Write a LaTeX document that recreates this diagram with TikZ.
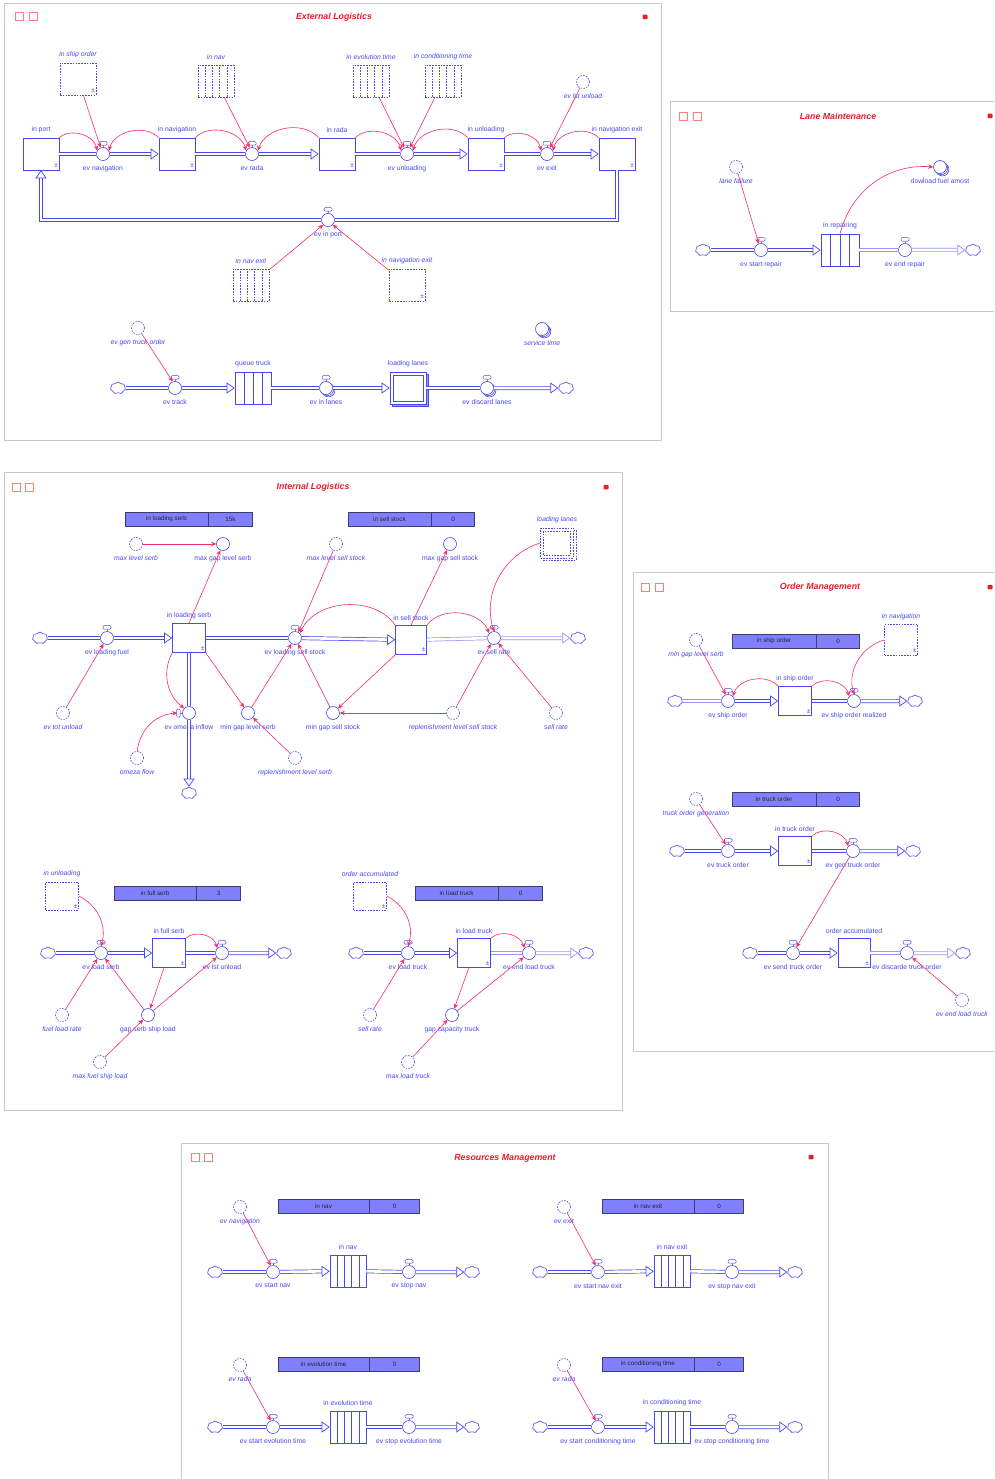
\documentclass[tikz,border=0pt]{standalone}
\usepackage{fontspec}
\setmainfont{Liberation Sans}
\usepackage{tikz}
\usetikzlibrary{arrows.meta, shapes.symbols, shadows, calc, positioning}

\definecolor{simblue}{RGB}{72,72,240}
\definecolor{pipeblue}{RGB}{150,150,250}
\definecolor{linkpink}{RGB}{245,45,105}
\definecolor{framepink}{RGB}{255,125,125}
\definecolor{titlered}{RGB}{230,30,40}
\definecolor{tableblue}{RGB}{128,128,255}
\definecolor{tableedge}{RGB}{60,60,110}

\tikzstyle{lbl}        = [font=\fontsize{6.8}{7}\selectfont, text=simblue, inner sep=0.5pt, label distance=4pt]
\tikzstyle{glbl}       = [lbl, font=\fontsize{6.8}{7}\selectfont\itshape]
\tikzstyle{pmsign}     = [anchor=south east, font=\fontsize{6.5}{6.5}\selectfont, text=simblue, inner sep=1.2pt]
\tikzstyle{stock}      = [rectangle, draw=simblue, fill=white, line width=0.6pt, minimum width=36, minimum height=32, inner sep=0, label={[pmsign]-40:±}]
\tikzstyle{ghoststock} = [stock, dash pattern=on 1.6pt off 1.2pt]
\tikzstyle{valvecap}   = [rectangle, rounded corners=1pt, draw=simblue, fill=white, line width=0.5pt, minimum width=8, minimum height=3.5, inner sep=0, pin distance=1.8pt]
\tikzstyle{valvebody}  = [circle, draw=simblue, fill=white, line width=0.6pt, minimum size=13, inner sep=0, pin distance=1.8pt, pin edge={simblue, line width=0.5pt}]
\tikzstyle{valve}      = [valvebody, pin={[valvecap]90:{}}]
\tikzstyle{valveside}  = [valvebody, pin={[valvecap, minimum width=3.5, minimum height=8]180:{}}]
\tikzstyle{conv}       = [circle, draw=simblue, fill=white, line width=0.6pt, minimum size=13, inner sep=0]
\tikzstyle{ghostconv}  = [conv, dash pattern=on 1.6pt off 1.2pt]
\tikzstyle{stacked}    = [double copy shadow={shadow xshift=1.2pt, shadow yshift=-1.2pt}]
\tikzstyle{cloudsrc}   = [cloud, cloud puffs=7, cloud puff arc=115, aspect=1.25, draw=simblue, fill=white, line width=0.6pt, minimum width=15, minimum height=12, inner sep=0]
\tikzstyle{pipe}       = [draw=simblue, line width=0.7pt, double=white, double distance=2.6pt]
\tikzstyle{pipelight}  = [pipe, draw=pipeblue]
\tikzstyle{flowtip}    = [-{Triangle[open, length=8pt, width=11pt]}]
\tikzstyle{link}       = [draw=linkpink, line width=0.6pt, -{Stealth[length=5pt, width=4.5pt]}]
\tikzstyle{tcell}      = [rectangle, draw=tableedge, fill=tableblue, line width=0.5pt, minimum height=14, inner sep=0, font=\fontsize{6.3}{7}\selectfont, text=black!85]
\tikzstyle{outerframe} = [draw=black!22, line width=0.7pt]
\tikzstyle{winframe}   = [draw=framepink, line width=0.6pt, double=white, double distance=1.4pt]
\tikzstyle{wintitle}   = [font=\fontsize{8.8}{9}\selectfont\bfseries\itshape, text=titlered, inner sep=0]
\tikzstyle{winicon}    = [rectangle, draw=framepink, line width=0.6pt, minimum size=8, inner sep=0]
\tikzstyle{winlock}    = [rectangle, rounded corners=0.8pt, fill=titlered, minimum width=5, minimum height=4.5, inner sep=0]
\tikzset{
  convlines/.style 2 args={path picture={
    \foreach \k [evaluate=\k as \f using \k/(#1+1)] in {1,...,#1}
      \draw[simblue, line width=0.5pt, #2]
        ($(path picture bounding box.south west)!\f!(path picture bounding box.south east)$) --
        ($(path picture bounding box.north west)!\f!(path picture bounding box.north east)$);}},
  conveyor/.style={rectangle, draw=simblue, fill=white, line width=0.6pt, minimum width=36, minimum height=32, inner sep=0, convlines={#1}{solid}},
  conveyor/.default=4,
  ghostconveyor/.style={conveyor, dash pattern=on 1.6pt off 1.2pt, convlines={4}{dash pattern=on 1.6pt off 1.2pt}},
  ovenframe/.style={path picture={
    \draw[simblue, line width=0.6pt, #1]
      ([shift={(3pt,3pt)}]path picture bounding box.south west) rectangle
      ([shift={(-3pt,-3pt)}]path picture bounding box.north east);}},
  oven/.style={rectangle, draw=simblue, fill=white, line width=0.6pt, minimum width=36, minimum height=32, inner sep=0, ovenframe=solid,
    copy shadow={shadow xshift=2.5pt, shadow yshift=-2.5pt, draw=simblue, fill=simblue!55}},
  ghostoven/.style={rectangle, draw=simblue, fill=white, line width=0.6pt, minimum width=33, minimum height=30, inner sep=0,
    dash pattern=on 1.6pt off 1.2pt, ovenframe={dash pattern=on 1.6pt off 1.2pt},
    copy shadow={shadow xshift=2.5pt, shadow yshift=-2.5pt, draw=simblue, fill=white}}
}

\begin{document}
\begin{tikzpicture}[x=1pt, y=-1pt]
    \useasboundingbox (0,0) rectangle (994,1479);
    \clip (0,0) rectangle (994,1479);
    \fill[white] (0,0) rectangle (994,1479);

    % ---------------- External Logistics ----------------
    \draw[outerframe] (4,3) rectangle (661,440);
    \draw[winframe] (12,8) rectangle (655,435);
    \draw[winframe] (12,24) -- (655,24);
    \node (elicA)   at (19,16)  [winicon] {};
    \node (elicB)   at (33,16)  [winicon] {};
    \node (ellock)  at (645,17) [winlock] {};
    \node (eltitle) at (334,17) [wintitle] {External Logistics};

    % main chain: in port -> ... -> in navigation exit
    \node (inport)    at (41,154)  [stock, label={[lbl]above:in port}] {};
    \node (evnav)     at (103,154) [valve, label={[lbl]below:ev navigation}] {};
    \node (innav)     at (177,154) [stock, label={[lbl]above:in navigation}] {};
    \node (evrada)    at (252,154) [valve, label={[lbl]below:ev rada}] {};
    \node (inrada)    at (337,154) [stock, label={[lbl]above:in rada}] {};
    \node (evunload)  at (407,154) [valve, label={[lbl]below:ev unloading}] {};
    \node (inunload)  at (486,154) [stock, label={[lbl]above:in unloading}] {};
    \node (evexit)    at (547,154) [valve, label={[lbl]below:ev exit}] {};
    \node (innavexit) at (617,154) [stock, label={[lbl]above:in navigation exit}] {};
    \node (shipordg)  at (78,79)   [ghoststock, label={[glbl]above:in ship order}] {};
    \node (navg)      at (216,81)  [ghostconveyor, label={[glbl]above:in nav}] {};
    \node (evoltg)    at (371,81)  [ghostconveyor, label={[glbl]above:in evolution time}] {};
    \node (condtg)    at (443,81)  [ghostconveyor, label={[glbl]above:in conditioning time}] {};
    \node (lstunlg)   at (583,82)  [ghostconv, label={[glbl]below:ev lst unload}] {};
    \node (evinport)  at (328,220) [valve, label={[lbl]below:ev in port}] {};
    \node (navexitg)  at (251,285) [ghostconveyor, label={[glbl]above:in nav exit}] {};
    \node (navexitsg) at (407,285) [ghoststock, label={[glbl]above:in navigation exit}] {};

    \draw [pipe]          (inport)    -- (evnav);
    \draw [pipe, flowtip] (evnav)     -- (innav);
    \draw [pipe]          (innav)     -- (evrada);
    \draw [pipe, flowtip] (evrada)    -- (inrada);
    \draw [pipe]          (inrada)    -- (evunload);
    \draw [pipe, flowtip] (evunload)  -- (inunload);
    \draw [pipe]          (inunload)  -- (evexit);
    \draw [pipe, flowtip] (evexit)    -- (innavexit);
    \draw [pipe]          (innavexit.south) |- (evinport);
    \draw [pipe, flowtip] (evinport)  -| (inport.south);

    \draw [link] (shipordg) -- (evnav.110);
    \draw [link] (navg)     -- (evrada.110);
    \draw [link] (evoltg)   -- (evunload.115);
    \draw [link] (condtg)   -- (evunload.65);
    \draw [link] (lstunlg)  -- (evexit.65);
    \draw [link] (inport.north east)    to[bend left=60]  (evnav.150);
    \draw [link] (innav.north west)     to[bend right=60] (evnav.30);
    \draw [link] (innav.north east)     to[bend left=60]  (evrada.150);
    \draw [link] (inrada.north west)    to[bend right=60] (evrada.30);
    \draw [link] (inrada.north east)    to[bend left=60]  (evunload.150);
    \draw [link] (inunload.north west)  to[bend right=60] (evunload.30);
    \draw [link] (inunload.north east)  to[bend left=60]  (evexit.150);
    \draw [link] (innavexit.north west) to[bend right=60] (evexit.30);
    \draw [link] (navexitg)  -- (evinport.225);
    \draw [link] (navexitsg) -- (evinport.315);

    % truck chain
    \node (elcloudA)  at (118,388) [cloudsrc] {};
    \node (evtrack)   at (175,388) [valve, label={[lbl]below:ev track}] {};
    \node (queuetr)   at (253,388) [conveyor=3, label={[lbl]above:queue truck}] {};
    \node (evinlanes) at (326,388) [valve, stacked, label={[lbl]below:ev in lanes}] {};
    \node (loadlanes) at (408,388) [oven, label={[lbl]above:loading lanes}] {};
    \node (evdiscard) at (487,388) [valve, stacked, label={[lbl]below:ev discard lanes}] {};
    \node (elcloudB)  at (566,388) [cloudsrc] {};
    \node (gentrkg)   at (138,328) [ghostconv, label={[glbl]below:ev gen truck order}] {};
    \node (servtime)  at (542,329) [conv, stacked, label={[glbl]below:service time}] {};

    \draw [pipe]          (elcloudA)  -- (evtrack);
    \draw [pipe, flowtip] (evtrack)   -- (queuetr);
    \draw [pipe]          (queuetr)   -- (evinlanes);
    \draw [pipe, flowtip] (evinlanes) -- (loadlanes);
    \draw [pipe]          (loadlanes) -- (evdiscard);
    \draw [pipe, flowtip] (evdiscard) -- (elcloudB);
    \draw [link] (gentrkg) -- (evtrack.110);

    % ---------------- Lane Maintenance ----------------
    \draw[outerframe] (670,101) rectangle (1000,311);
    \draw[winframe] (676,108) rectangle (1000,306);
    \draw[winframe] (676,123) -- (1000,123);
    \node (lmicA)   at (683,116) [winicon] {};
    \node (lmicB)   at (697,116) [winicon] {};
    \node (lmlock)  at (990,116) [winlock] {};
    \node (lmtitle) at (838,116) [wintitle] {Lane Maintenance};

    \node (lmcloudA)  at (703,250) [cloudsrc] {};
    \node (evstrep)   at (761,250) [valve, label={[lbl]below:ev start repair}] {};
    \node (inrepair)  at (840,250) [conveyor=3, minimum width=38, label={[lbl]above:in repairing}] {};
    \node (evendrep)  at (905,250) [valve, label={[lbl]below:ev end repair}] {};
    \node (lmcloudB)  at (973,250) [cloudsrc] {};
    \node (lanefailg) at (736,167) [ghostconv, label={[glbl]below:lane failure}] {};
    \node (dlfuel)    at (940,167) [conv, stacked, label={[lbl]below:dowload fuel amost}] {};

    \draw [pipe]               (lmcloudA) -- (evstrep);
    \draw [pipe, flowtip]      (evstrep)  -- (inrepair);
    \draw [pipelight]          (inrepair) -- (evendrep);
    \draw [pipelight, flowtip] (evendrep) -- (lmcloudB);
    \draw [link] (lanefailg) -- (evstrep.110);
    \draw [link] (inrepair.north) to[bend left=40] (dlfuel.west);

    % ---------------- Internal Logistics ----------------
    \draw[outerframe] (4,472) rectangle (622,1110);
    \draw[winframe] (9,480) rectangle (615,1100);
    \draw[winframe] (9,494) -- (615,494);
    \node (ilicA)   at (16,487)  [winicon] {};
    \node (ilicB)   at (29,487)  [winicon] {};
    \node (illock)  at (606,487) [winlock] {};
    \node (iltitle) at (313,487) [wintitle] {Internal Logistics};

    \node (tabserb)  at (166.5,519) [tcell, minimum width=83] {in loading serb};
    \node (tabserbv) [tcell, minimum width=44, right=0pt of tabserb] {15k};
    \node (tabsell)  at (389.5,519) [tcell, minimum width=83] {in sell stock};
    \node (tabsellv) [tcell, minimum width=43, right=0pt of tabsell] {0};

    \node (maxlvserbg) at (136,544) [ghostconv, label={[glbl]below:max level serb}] {};
    \node (maxgapserb) at (223,544) [conv, label={[lbl]below:max gap level serb}] {};
    \node (ilcloudA)   at (40,638)  [cloudsrc] {};
    \node (evloadfuel) at (107,638) [valve, label={[lbl]below:ev loading fuel}] {};
    \node (inloadserb) at (189,638) [stock, minimum width=33, minimum height=29, label={[lbl]above:in loading serb}] {};
    \node (evtotunlg)  at (63,713)  [ghostconv, label={[glbl]below:ev tot unload}] {};
    \node (evomega)    at (189,713) [valveside, label={[lbl]below:ev omeza inflow}] {};
    \node (ilcloudC)   at (189,793) [cloudsrc] {};
    \node (omezaflg)   at (137,758) [ghostconv, label={[glbl]below:omeza flow}] {};
    \node (mingapserb) at (248,713) [conv, label={[lbl]below:min gap level serb}] {};
    \node (replserbg)  at (295,758) [ghostconv, label={[glbl]below:replenishment level serb}] {};
    \node (maxlvsellg) at (336,544) [ghostconv, label={[glbl]below:max level sell stock}] {};
    \node (maxgapsell) at (450,544) [conv, label={[lbl]below:max gap sell stock}] {};
    \node (lanesg)     at (557,543) [ghostoven, label={[glbl]above:loading lanes}] {};
    \node (evloadsell) at (295,638) [valve, label={[lbl]below:ev loading sell stock}] {};
    \node (insell)     at (411,640) [stock, minimum width=31, minimum height=29, label={[lbl]above:in sell stock}] {};
    \node (evsellrate) at (494,638) [valve, label={[lbl]below:ev sell rate}] {};
    \node (ilcloudB)   at (578,638) [cloudsrc] {};
    \node (mingapsell) at (333,713) [conv, label={[lbl]below:min gap sell stock}] {};
    \node (replsellg)  at (453,713) [ghostconv, label={[glbl]below:replenishment level sell stock}] {};
    \node (sellrateg)  at (556,713) [ghostconv, label={[glbl]below:sell rate}] {};

    \draw [pipe]               (ilcloudA)   -- (evloadfuel);
    \draw [pipe, flowtip]      (evloadfuel) -- (inloadserb);
    \draw [pipe]               (inloadserb) -- (evloadsell);
    \draw [pipe, flowtip]      (evloadsell) -- (insell);
    \draw [pipelight]          (insell)     -- (evsellrate);
    \draw [pipelight, flowtip] (evsellrate) -- (ilcloudB);
    \draw [pipe]               (inloadserb) -- (evomega);
    \draw [pipe, flowtip]      (evomega)    -- (ilcloudC);

    \draw [link] (maxlvserbg) -- (maxgapserb);
    \draw [link] (inloadserb.north) -- (maxgapserb);
    \draw [link] (evtotunlg) -- (evloadfuel);
    \draw [link] (inloadserb.south west) to[bend right=40] (evomega.north west);
    \draw [link] (omezaflg) to[bend left=40] ([xshift=-5pt]evomega.west);
    \draw [link] (inloadserb.south east) -- (mingapserb);
    \draw [link] (mingapserb) -- (evloadsell);
    \draw [link] (replserbg) -- (mingapserb);
    \draw [link] (maxlvsellg) -- (evloadsell.60);
    \draw [link] (insell.north west) to[bend right=60] (evloadsell.north east);
    \draw [link] (insell.north) -- (maxgapsell);
    \draw [link] (insell.north east) to[bend left=60] (evsellrate.north west);
    \draw [link] (lanesg.west) to[bend right=45] (evsellrate.north);
    \draw [link] (insell.south west) -- (mingapsell);
    \draw [link] (mingapsell) -- (evloadsell);
    \draw [link] (replsellg) -- (mingapsell);
    \draw [link] (replsellg) -- (evsellrate);
    \draw [link] (sellrateg) -- (evsellrate);

    % full serb chain
    \node (tabfull)  at (155,893) [tcell, minimum width=82] {in full serb};
    \node (tabfullv) [tcell, minimum width=44, right=0pt of tabfull] {3};
    \node (inunlg)     at (62,896)   [ghoststock, minimum width=33, minimum height=28, label={[glbl]above:in unloading}] {};
    \node (ilcloudD)   at (48,953)   [cloudsrc] {};
    \node (evloadserb) at (101,953)  [valve, label={[lbl]below:ev load serb}] {};
    \node (infullserb) at (169,953)  [stock, minimum width=33, minimum height=29, label={[lbl]above:in full serb}] {};
    \node (evlstunl)   at (222,953)  [valve, label={[lbl]below:ev lst unload}] {};
    \node (ilcloudE)   at (284,953)  [cloudsrc] {};
    \node (fuelrateg)  at (62,1015)  [ghostconv, label={[glbl]below:fuel load rate}] {};
    \node (gapserb)    at (148,1015) [conv, label={[lbl]below:gap serb ship load}] {};
    \node (maxfuelg)   at (100,1062) [ghostconv, label={[glbl]below:max fuel ship load}] {};

    \draw [pipe]          (ilcloudD)   -- (evloadserb);
    \draw [pipe, flowtip] (evloadserb) -- (infullserb);
    \draw [pipe]          (infullserb) -- (evlstunl);
    \draw [pipe, flowtip] (evlstunl)   -- (ilcloudE);
    \draw [link] (inunlg.east) to[bend left=40] (evloadserb.north);
    \draw [link] (infullserb.north east) to[bend left=60] (evlstunl.north west);
    \draw [link] (fuelrateg) -- (evloadserb);
    \draw [link] (gapserb) -- (evloadserb);
    \draw [link] (infullserb) -- (gapserb);
    \draw [link] (gapserb) -- (evlstunl);
    \draw [link] (maxfuelg) -- (gapserb);

    % load truck chain
    \node (tabload)  at (456.5,893) [tcell, minimum width=83] {in load truck};
    \node (tabloadv) [tcell, minimum width=44, right=0pt of tabload] {0};
    \node (ordaccg)     at (370,896)  [ghoststock, minimum width=33, minimum height=28, label={[glbl]above:order accumulated}] {};
    \node (ilcloudF)    at (356,953)  [cloudsrc] {};
    \node (evloadtruck) at (408,953)  [valve, label={[lbl]below:ev load truck}] {};
    \node (inloadtruck) at (474,953)  [stock, minimum width=33, minimum height=29, label={[lbl]above:in load truck}] {};
    \node (evendload)   at (529,953)  [valve, label={[lbl]below:ev end load truck}] {};
    \node (ilcloudG)    at (586,953)  [cloudsrc] {};
    \node (sellrate2g)  at (370,1015) [ghostconv, label={[glbl]below:sell rate}] {};
    \node (gapcap)      at (452,1015) [conv, label={[lbl]below:gap capacity truck}] {};
    \node (maxloadg)    at (408,1062) [ghostconv, label={[glbl]below:max load truck}] {};

    \draw [pipe]               (ilcloudF)    -- (evloadtruck);
    \draw [pipe, flowtip]      (evloadtruck) -- (inloadtruck);
    \draw [pipelight]          (inloadtruck) -- (evendload);
    \draw [pipelight, flowtip] (evendload)   -- (ilcloudG);
    \draw [link] (ordaccg.east) to[bend left=40] (evloadtruck.north);
    \draw [link] (inloadtruck.north east) to[bend left=60] (evendload.north west);
    \draw [link] (sellrate2g) -- (evloadtruck);
    \draw [link] (inloadtruck) -- (gapcap);
    \draw [link] (gapcap) -- (evendload);
    \draw [link] (maxloadg) -- (gapcap);

    % ---------------- Order Management ----------------
    \draw[outerframe] (633,572) rectangle (1000,1051);
    \draw[winframe] (638,580) rectangle (1000,1045);
    \draw[winframe] (638,594) -- (1000,594);
    \node (omicA)   at (645,587) [winicon] {};
    \node (omicB)   at (659,587) [winicon] {};
    \node (omlock)  at (990,587) [winlock] {};
    \node (omtitle) at (820,587) [wintitle] {Order Management};

    \node (tabship)  at (774,641) [tcell, minimum width=84] {in ship order};
    \node (tabshipv) [tcell, minimum width=43, right=0pt of tabship] {0};
    \node (mingapg)     at (696,640) [ghostconv, label={[glbl]below:min gap level serb}] {};
    \node (innavg)      at (901,640) [ghoststock, minimum width=33, minimum height=31, label={[glbl]above:in navigation}] {};
    \node (omcloudA)    at (675,701) [cloudsrc] {};
    \node (evshipord)   at (728,701) [valve, label={[lbl]below:ev ship order}] {};
    \node (inshipord)   at (795,701) [stock, minimum width=33, minimum height=29, label={[lbl]above:in ship order}] {};
    \node (evshipreal)  at (854,701) [valve, label={[lbl]below:ev ship order realized}] {};
    \node (omcloudB)    at (915,701) [cloudsrc] {};

    \draw [pipelight]     (omcloudA)   -- (evshipord);
    \draw [pipe, flowtip] (evshipord)  -- (inshipord);
    \draw [pipe]          (inshipord)  -- (evshipreal);
    \draw [pipe, flowtip] (evshipreal) -- (omcloudB);
    \draw [link] (mingapg) -- (evshipord.110);
    \draw [link] (inshipord.north west) to[bend right=60] (evshipord.north east);
    \draw [link] (inshipord.north east) to[bend left=60] (evshipreal.north west);
    \draw [link] (innavg.west) to[bend right=45] (evshipreal.north);

    \node (tabtruck)  at (774,799.5) [tcell, minimum width=84] {in truck order};
    \node (tabtruckv) [tcell, minimum width=43, right=0pt of tabtruck] {0};
    \node (truckgeng)  at (696,799) [ghostconv, label={[glbl]below:truck order generation}] {};
    \node (omcloudC)   at (677,851) [cloudsrc] {};
    \node (evtruckord) at (728,851) [valve, label={[lbl]below:ev truck order}] {};
    \node (intruckord) at (795,851) [stock, minimum width=33, minimum height=29, label={[lbl]above:in truck order}] {};
    \node (evgentruck) at (853,851) [valve, label={[lbl]below:ev gen truck order}] {};
    \node (omcloudD)   at (913,851) [cloudsrc] {};

    \draw [pipe]          (omcloudC)   -- (evtruckord);
    \draw [pipe, flowtip] (evtruckord) -- (intruckord);
    \draw [pipe]          (intruckord) -- (evgentruck);
    \draw [pipe, flowtip] (evgentruck) -- (omcloudD);
    \draw [link] (truckgeng) -- (evtruckord.110);
    \draw [link] (intruckord.north east) to[bend left=60] (evgentruck.north west);

    \node (omcloudE)    at (750,953)  [cloudsrc] {};
    \node (evsendtruck) at (793,953)  [valve, label={[lbl]below:ev send truck order}] {};
    \node (ordacc)      at (854,953)  [stock, minimum width=32, minimum height=29, label={[lbl]above:order accumulated}] {};
    \node (evdiscord)   at (907,953)  [valve, label={[lbl]below:ev discarde truck order}] {};
    \node (omcloudF)    at (963,953)  [cloudsrc] {};
    \node (endloadg)    at (962,1000) [ghostconv, label={[glbl]below:ev end load truck}] {};

    \draw [pipe]               (omcloudE)    -- (evsendtruck);
    \draw [pipe, flowtip]      (evsendtruck) -- (ordacc);
    \draw [pipelight]          (ordacc)      -- (evdiscord);
    \draw [pipelight, flowtip] (evdiscord)   -- (omcloudF);
    \draw [link] (evgentruck) -- (evsendtruck.60);
    \draw [link] (endloadg) -- (evdiscord);

    % ---------------- Resources Management ----------------
    \draw[outerframe] (181,1143) rectangle (828,1490);
    \draw[winframe] (187,1150) rectangle (822,1490);
    \draw[winframe] (187,1165) -- (822,1165);
    \node (rmicA)   at (195,1157) [winicon] {};
    \node (rmicB)   at (208,1157) [winicon] {};
    \node (rmlock)  at (811,1157) [winlock] {};
    \node (rmtitle) at (505,1158) [wintitle] {Resources Management};

    \node (tabnav)   at (323.5,1206) [tcell, minimum width=91] {in nav};
    \node (tabnavv)  [tcell, minimum width=50, right=0pt of tabnav] {0};
    \node (tabnex)   at (648,1206) [tcell, minimum width=92] {in nav exit};
    \node (tabnexv)  [tcell, minimum width=49, right=0pt of tabnex] {0};
    \node (tabevol)  at (323.5,1364) [tcell, minimum width=91] {in evolution time};
    \node (tabevolv) [tcell, minimum width=50, right=0pt of tabevol] {0};
    \node (tabcond)  at (648,1364) [tcell, minimum width=92] {in conditioning time};
    \node (tabcondv) [tcell, minimum width=49, right=0pt of tabcond] {0};

    \node (evnavg)     at (240,1207) [ghostconv, label={[glbl]below:ev navigation}] {};
    \node (rmcloudA)   at (215,1272) [cloudsrc] {};
    \node (evstartnav) at (273,1272) [valve, label={[lbl]below:ev start nav}] {};
    \node (innavc)     at (348,1271) [conveyor, label={[lbl]above:in nav}] {};
    \node (evstopnav)  at (409,1272) [valve, label={[lbl]below:ev stop nav}] {};
    \node (rmcloudB)   at (472,1272) [cloudsrc] {};

    \node (evexitg)    at (564,1207) [ghostconv, label={[glbl]below:ev exit}] {};
    \node (rmcloudC)   at (540,1272) [cloudsrc] {};
    \node (evstartnex) at (598,1272) [valve, label={[lbl]below:ev start nav exit}] {};
    \node (innexc)     at (672,1271) [conveyor, label={[lbl]above:in nav exit}] {};
    \node (evstopnex)  at (732,1272) [valve, label={[lbl]below:ev stop nav exit}] {};
    \node (rmcloudD)   at (795,1272) [cloudsrc] {};

    \node (evradagA)   at (240,1365) [ghostconv, label={[glbl]below:ev rada}] {};
    \node (rmcloudE)   at (215,1427) [cloudsrc] {};
    \node (evstartevo) at (273,1427) [valve, label={[lbl]below:ev start evolution time}] {};
    \node (inevoc)     at (348,1427) [conveyor, label={[lbl]above:in evolution time}] {};
    \node (evstopevo)  at (409,1427) [valve, label={[lbl]below:ev stop evolution time}] {};
    \node (rmcloudF)   at (472,1427) [cloudsrc] {};

    \node (evradagB)   at (564,1365) [ghostconv, label={[glbl]below:ev rada}] {};
    \node (rmcloudG)   at (540,1427) [cloudsrc] {};
    \node (evstartcon) at (598,1427) [valve, label={[lbl]below:ev start conditioning time}] {};
    \node (inconc)     at (672,1427) [conveyor, label={[lbl]above:in conditioning time}] {};
    \node (evstopcon)  at (732,1427) [valve, label={[lbl]below:ev stop conditioning time}] {};
    \node (rmcloudH)   at (795,1427) [cloudsrc] {};

    \draw [pipe]          (rmcloudA)   -- (evstartnav);
    \draw [pipe, flowtip] (evstartnav) -- (innavc);
    \draw [pipe]          (innavc)     -- (evstopnav);
    \draw [pipe, flowtip] (evstopnav)  -- (rmcloudB);
    \draw [pipe]          (rmcloudC)   -- (evstartnex);
    \draw [pipe, flowtip] (evstartnex) -- (innexc);
    \draw [pipe]          (innexc)     -- (evstopnex);
    \draw [pipe, flowtip] (evstopnex)  -- (rmcloudD);
    \draw [pipe]          (rmcloudE)   -- (evstartevo);
    \draw [pipe, flowtip] (evstartevo) -- (inevoc);
    \draw [pipe]          (inevoc)     -- (evstopevo);
    \draw [pipe, flowtip] (evstopevo)  -- (rmcloudF);
    \draw [pipe]          (rmcloudG)   -- (evstartcon);
    \draw [pipe, flowtip] (evstartcon) -- (inconc);
    \draw [pipe]          (inconc)     -- (evstopcon);
    \draw [pipe, flowtip] (evstopcon)  -- (rmcloudH);

    \draw [link] (evnavg)   -- (evstartnav.110);
    \draw [link] (evexitg)  -- (evstartnex.110);
    \draw [link] (evradagA) -- (evstartevo.110);
    \draw [link] (evradagB) -- (evstartcon.110);
\end{tikzpicture}
\end{document}
